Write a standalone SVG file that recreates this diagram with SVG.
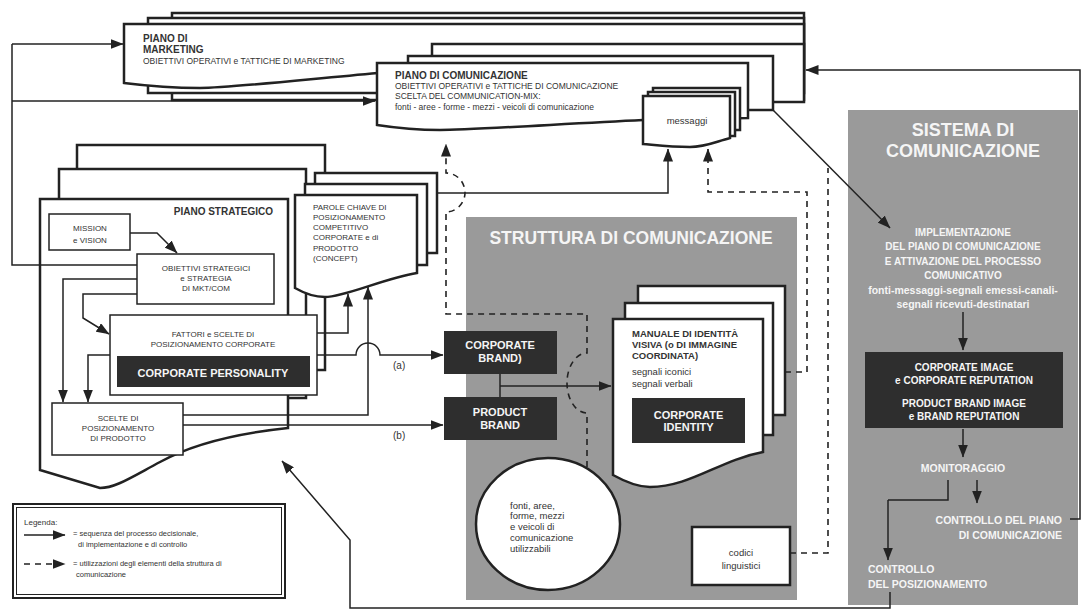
<svg xmlns="http://www.w3.org/2000/svg" width="1088" height="614" viewBox="0 0 1088 614">
<defs>
<marker id="ah" viewBox="0 0 13 10" refX="12.5" refY="5" markerWidth="13" markerHeight="10" markerUnits="userSpaceOnUse" orient="auto"><path d="M0,0 L13,5 L0,10 Z" fill="#222"/></marker>
<style>
.doc{fill:#fff;stroke:#222;stroke-width:2.5;stroke-linejoin:miter}
.box{fill:#fff;stroke:#222;stroke-width:1.5}
.dk{fill:#2e2e2e}
.panel{fill:#9a9a9a}
.ln{fill:none;stroke:#222;stroke-width:1.5}
.ar{fill:none;stroke:#222;stroke-width:1.5;marker-end:url(#ah)}
.da{fill:none;stroke:#222;stroke-width:1.6;stroke-dasharray:6 5;marker-end:url(#ah)}
.dl{fill:none;stroke:#222;stroke-width:1.6;stroke-dasharray:6 5}
text{font-family:"Liberation Sans",Arial,Helvetica,sans-serif;fill:#333}
.s{font-size:8px}
.m{font-size:8.5px}
.h{font-size:10px;font-weight:bold}
.c{text-anchor:middle}
.r{text-anchor:end}
.w{fill:#f5f5f5;font-weight:bold}
.n{font-size:9.5px}
</style>
</defs>
<rect width="1088" height="614" fill="#fff"/>

<g id="struttura-panel"><rect class="panel" x="466" y="217" width="331" height="383"/>
<text class="w c" x="631" y="244" style="font-size:17.5px">STRUTTURA DI COMUNICAZIONE</text></g>
<g id="sistema-panel"><rect class="panel" x="848" y="110" width="230" height="495"/>
<text class="w c" x="963" y="136" style="font-size:18px">SISTEMA DI</text>
<text class="w c" x="963" y="157" style="font-size:18px">COMUNICAZIONE</text></g>

<g id="piano-marketing">
<rect class="doc" x="172" y="13" width="632" height="87"/>
<rect class="doc" x="148" y="18" width="656" height="75"/>
<path class="doc" d="M124,24 H804 V70 L378,73 C300,80 230,88 200,88 C170,88 140,85 124,83 Z"/>
<text class="h" x="143" y="42">PIANO DI</text>
<text class="h" x="143" y="53">MARKETING</text>
<text class="m" x="143" y="64">OBIETTIVI OPERATIVI e TATTICHE DI MARKETING</text>
</g>

<g id="piano-comunicazione">
<rect class="doc" x="432" y="44" width="372" height="58"/>
<rect class="doc" x="408" y="56" width="365" height="54"/>
<path class="doc" d="M377,63 H748 V118 L643,120 C560,124 470,130 440,130 C410,130 390,127 377,125 Z"/>
<text class="h" x="395" y="79">PIANO DI COMUNICAZIONE</text>
<text class="m" x="395" y="89">OBIETTIVI OPERATIVI e TATTICHE DI COMUNICAZIONE</text>
<text class="m" x="395" y="99">SCELTA DEL COMMUNICATION-MIX:</text>
<text class="m" x="395" y="110">fonti - aree - forme - mezzi - veicoli di comunicazione</text>
</g>

<g id="messaggi">
<rect class="doc" x="653" y="88" width="87" height="42"/>
<rect class="doc" x="648" y="92" width="87" height="44"/>
<path class="doc" d="M643,96 H730 V138 C715,142 705,147 690,147 C670,147 655,145 643,144 Z"/>
<text class="c n" x="687" y="124">messaggi</text>
</g>

<g id="piano-strategico">
<rect class="doc" x="77" y="145" width="248" height="225"/>
<rect class="doc" x="59" y="169" width="247" height="229"/>
<path class="doc" d="M40,199 H288 V428 C250,432 200,440 160,462 C130,478 115,488 100,488 L40,470 Z"/>
<text class="h r" x="273" y="215">PIANO STRATEGICO</text>
</g>

<g id="parole-chiave">
<rect class="doc" x="315" y="173" width="122" height="80"/>
<rect class="doc" x="305" y="184" width="122" height="81"/>
<path class="doc" d="M295,195 H417 V273 C385,278 345,297 325,297 C312,297 302,292 295,288 Z"/>
<text class="s" x="313" y="210">PAROLE CHIAVE DI</text>
<text class="s" x="313" y="220">POSIZIONAMENTO</text>
<text class="s" x="313" y="230">COMPETITIVO</text>
<text class="s" x="313" y="240">CORPORATE e di</text>
<text class="s" x="313" y="251">PRODOTTO</text>
<text class="s" x="313" y="261">(CONCEPT)</text>
</g>

<g id="mission">
<rect class="box" x="49" y="214" width="81" height="36"/>
<text class="s c" x="90" y="231">MISSION</text>
<text class="s c" x="90" y="243">e VISION</text>
</g>
<g id="obiettivi">
<rect class="box" x="137" y="254" width="137" height="50"/>
<text class="s c" x="206" y="271">OBIETTIVI STRATEGICI</text>
<text class="s c" x="206" y="281">e STRATEGIA</text>
<text class="s c" x="206" y="291">DI MKT/COM</text>
</g>
<g id="fattori">
<rect class="box" x="110" y="315" width="207" height="80"/>
<text class="s c" x="213" y="337">FATTORI e SCELTE DI</text>
<text class="s c" x="213" y="347">POSIZIONAMENTO CORPORATE</text>
<rect class="dk" x="117" y="356" width="193" height="31"/>
<text class="w c" x="213" y="377" style="font-size:11px">CORPORATE PERSONALITY</text>
</g>
<g id="scelte-prodotto">
<rect class="box" x="52" y="403" width="131" height="52"/>
<text class="s c" x="118" y="421">SCELTE DI</text>
<text class="s c" x="118" y="431">POSIZIONAMENTO</text>
<text class="s c" x="118" y="441">DI PRODOTTO</text>
</g>

<g id="corporate-brand">
<rect class="dk" x="444" y="331" width="113" height="43"/>
<text class="w c" x="500" y="349" style="font-size:11px">CORPORATE</text>
<text class="w c" x="500" y="362" style="font-size:11px">BRAND)</text>
</g>
<g id="product-brand">
<rect class="dk" x="444" y="397" width="113" height="43"/>
<text class="w c" x="500" y="416" style="font-size:11px">PRODUCT</text>
<text class="w c" x="500" y="429" style="font-size:11px">BRAND</text>
</g>

<g id="manuale">
<rect class="doc" x="638" y="286" width="147" height="129"/>
<rect class="doc" x="625" y="303" width="148" height="132"/>
<path class="doc" d="M613,319 H763 V452 C720,460 690,487 650,487 C635,487 622,480 613,475 Z"/>
<text x="632" y="336.5" style="font-size:9.5px;font-weight:bold">MANUALE DI IDENTITÀ</text>
<text x="632" y="347.5" style="font-size:9.5px;font-weight:bold">VISIVA (o DI IMMAGINE</text>
<text x="632" y="358.5" style="font-size:9.5px;font-weight:bold">COORDINATA)</text>
<text class="n" x="632" y="374.5">segnali iconici</text>
<text class="n" x="632" y="386.5">segnali verbali</text>
<rect class="dk" x="632" y="398" width="113" height="45"/>
<text class="w c" x="688.5" y="419" style="font-size:11px">CORPORATE</text>
<text class="w c" x="688.5" y="431" style="font-size:11px">IDENTITY</text>
</g>

<g id="fonti-circle">
<ellipse class="doc" cx="548" cy="524" rx="72" ry="66"/>
<text class="n" x="510" y="508.5">fonti, aree,</text>
<text class="n" x="510" y="519">forme, mezzi</text>
<text class="n" x="510" y="529.5">e veicoli di</text>
<text class="n" x="510" y="540.5">comunicazione</text>
<text class="n" x="510" y="551.5">utilizzabili</text>
</g>

<g id="codici">
<rect class="doc" x="692" y="527" width="98" height="58"/>
<text class="n c" x="741" y="555.5">codici</text>
<text class="n c" x="741" y="568.5">linguistici</text>
</g>

<g id="implementazione">
<text class="w c" x="963" y="235.5" style="font-size:10px">IMPLEMENTAZIONE</text>
<text class="w c" x="963" y="250" style="font-size:10px">DEL PIANO DI COMUNICAZIONE</text>
<text class="w c" x="963" y="264.5" style="font-size:10px">E ATTIVAZIONE DEL PROCESSO</text>
<text class="w c" x="963" y="279" style="font-size:10px">COMUNICATIVO</text>
<text class="w c" x="963" y="293.5" style="font-size:10.5px">fonti-messaggi-segnali emessi-canali-</text>
<text class="w c" x="963" y="308" style="font-size:10.5px">segnali ricevuti-destinatari</text>
</g>
<g id="corporate-image">
<rect class="dk" x="865" y="352" width="198" height="76"/>
<text class="w c" x="964" y="371" style="font-size:10px">CORPORATE IMAGE</text>
<text class="w c" x="964" y="384" style="font-size:10px">e CORPORATE REPUTATION</text>
<text class="w c" x="964" y="407" style="font-size:10px">PRODUCT BRAND IMAGE</text>
<text class="w c" x="964" y="420" style="font-size:10px">e BRAND REPUTATION</text>
</g>
<g id="monitoraggio"><text class="w c" x="963" y="472" style="font-size:10.5px">MONITORAGGIO</text></g>
<g id="controllo-piano">
<text class="w r" x="1062" y="524" style="font-size:10.5px">CONTROLLO DEL PIANO</text>
<text class="w r" x="1062" y="539" style="font-size:10.5px">DI COMUNICAZIONE</text>
</g>
<g id="controllo-posizionamento">
<text class="w" x="868" y="573" style="font-size:10.5px">CONTROLLO</text>
<text class="w" x="868" y="588" style="font-size:10.5px">DEL POSIZIONAMENTO</text>
</g>

<g id="legenda">
<rect x="13" y="504" width="272" height="94" fill="#fff" stroke="#222" stroke-width="2"/>
<rect x="16.5" y="507.5" width="265" height="87" fill="none" stroke="#222" stroke-width="1"/>
<text class="s" x="24" y="525">Legenda:</text>
<path class="ar" d="M24,535 H65"/>
<text style="font-size:7.5px" x="73" y="536">= sequenza del processo decisionale,</text>
<text style="font-size:7.5px" x="78" y="547">di implementazione e di controllo</text>
<path class="da" d="M24,564 H65"/>
<text style="font-size:7.5px" x="73" y="566">= utilizzazioni degli elementi della  struttura di</text>
<text style="font-size:7.5px" x="76" y="577">comunicazione</text>
</g>

<g id="connectors">
<path class="ln" d="M137,265 H12 V44"/>
<path class="ar" d="M12,44 H123"/>
<path class="ar" d="M12,101 H375"/>
<path class="ar" d="M130,233 H157 L177,253"/>
<path class="ar" d="M137,279 H63 V402"/>
<path class="ar" d="M137,294 H83 V318 L109,334"/>
<path class="ar" d="M110,355 H88 V402"/>
<path class="ar" d="M317,333 H348 V294"/>
<path class="ar" d="M183,415 H368 V287"/>
<path class="ar" d="M317,355 H356 A12,12 0 0 1 380,355 H443"/>
<path class="ar" d="M183,425 H443"/>
<text style="font-size:10px" x="393" y="368.5">(a)</text>
<text style="font-size:10px" x="393" y="438.5">(b)</text>
<path class="ln" d="M500,374 V397"/>
<path class="ar" d="M500,386 H611"/>
<path class="ar" d="M437,193 H668 V149"/>
<path class="ar" d="M773,110 L890,228"/>
<path class="ar" d="M1070,519 H1080 V70 H806"/>
<path class="ar" d="M963,312 V350"/>
<path class="ar" d="M963,429 V457"/>
<path class="ln" d="M948,480 V500 H888"/>
<path class="ar" d="M888,500 V560"/>
<path class="ar" d="M977,480 V503"/>
<path class="ar" d="M890,592 V608 H350 V540 L282,461"/>
<path class="da" d="M587,467 V413 A20,30 0 0 1 587,353 V314 H446 V212 A19,19.5 0 0 0 446,173 V144"/>
<path class="da" d="M785,372 H807 V192 H708 V149"/>
<path class="dl" d="M790,553 H828 V168"/>
</g>
</svg>
